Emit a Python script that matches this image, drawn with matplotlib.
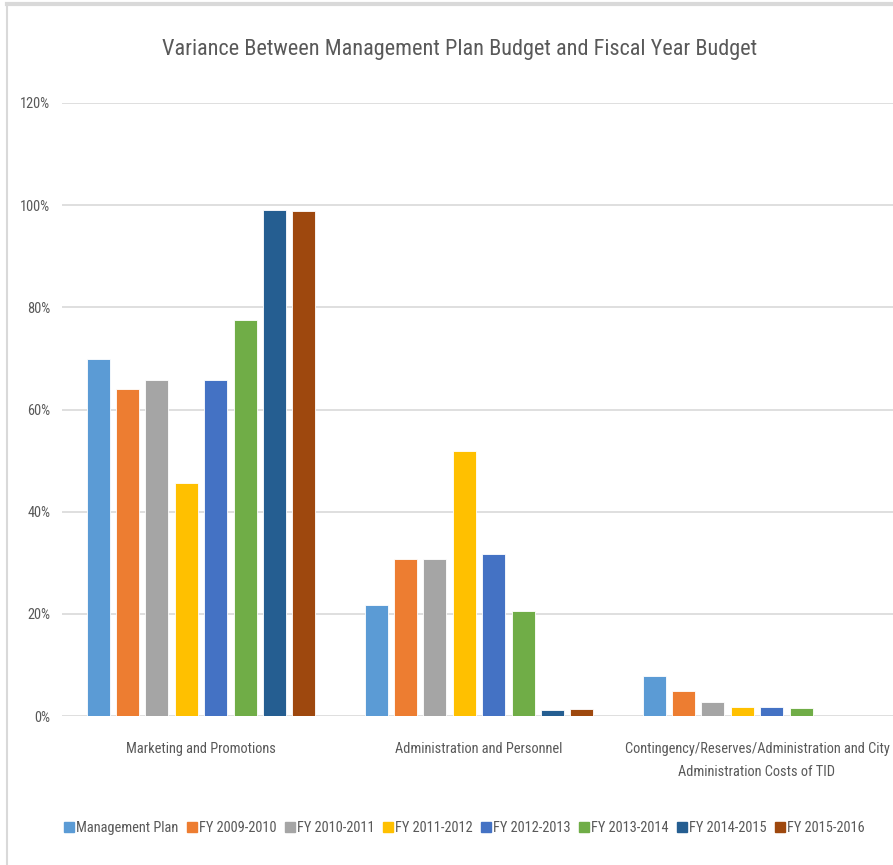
import matplotlib
matplotlib.use("Agg")
import matplotlib.pyplot as plt
import numpy as np
from matplotlib.lines import Line2D

FONT = ['Roboto Condensed', 'Carlito', 'DejaVu Sans']
plt.rcParams['font.family'] = FONT
plt.rcParams['font.weight'] = 'normal'

categories = ["Marketing and Promotions",
              "Administration and Personnel",
              "Contingency/Reserves/Administration and City\nAdministration Costs of TID"]
series_names = ["Management Plan", "FY 2009-2010", "FY 2010-2011", "FY 2011-2012",
                "FY 2012-2013", "FY 2013-2014", "FY 2014-2015", "FY 2015-2016"]
values = {
    "Management Plan": [69.8, 21.8, 7.9],
    "FY 2009-2010":    [64.0, 30.8, 4.8],
    "FY 2010-2011":    [65.8, 30.8, 2.8],
    "FY 2011-2012":    [45.6, 51.8, 1.8],
    "FY 2012-2013":    [65.8, 31.8, 1.8],
    "FY 2013-2014":    [77.5, 20.6, 1.6],
    "FY 2014-2015":    [99.0, 1.1, 0.0],
    "FY 2015-2016":    [98.8, 1.4, 0.0],
}
colors = ["#5B9BD5", "#ED7D31", "#A5A5A5", "#FFC000",
          "#4472C4", "#70AD47", "#255E91", "#9E480E"]
yticks = [0, 20, 40, 60, 80, 100, 120]
ytick_labels = ["0%", "20%", "40%", "60%", "80%", "100%", "120%"]

W, H = 893, 865
fig = plt.figure(figsize=(W / 100, H / 100), dpi=100)
ax = fig.add_axes([62 / W, (H - 716) / H, 834 / W, (716 - 103) / H])
renderer = fig.canvas.get_renderer()


def fit(text_artist, target_px):
    w = text_artist.get_window_extent(renderer).width
    text_artist.set_fontsize(text_artist.get_fontsize() * target_px / w)


x = np.arange(len(categories))
slot = 0.1058
bw = 0.083
n = len(series_names)
for i, (name, c) in enumerate(zip(series_names, colors)):
    offs = (i - (n - 1) / 2) * slot
    ax.bar(x + offs, values[name], width=bw, color=c, edgecolor='white',
           linewidth=0.6, label=name, zorder=3)

ax.set_xlim(-0.5, len(categories) - 0.5)
ax.set_ylim(0, 120)
ax.set_yticks(yticks)
ax.set_yticklabels(ytick_labels, fontsize=11, color="#595959")
ax.set_xticks(x)
ax.set_xticklabels(categories, fontsize=11.5, color="#595959", linespacing=1.8)
ax.tick_params(axis='both', length=0)
ax.tick_params(axis='y', pad=8.5)
ax.tick_params(axis='x', pad=19)
for s in ax.spines.values():
    s.set_visible(False)
ax.grid(axis='y', color="#D9D9D9", linewidth=1.2, zorder=0)
ax.set_axisbelow(True)

fig.canvas.draw()
xl = ax.get_xticklabels()
fit(xl[0], 151)
fs_cat = xl[0].get_fontsize()
for t in xl:
    t.set_fontsize(fs_cat)
yl = ax.get_yticklabels()
for t in yl:
    t.set_fontsize(fs_cat)

title = fig.text(460 / W, 1 - 50 / H, "Variance Between Management Plan Budget and Fiscal Year Budget",
                 ha='center', va='center', fontsize=20, color="#595959")
fit(title, 594)

handles = [Line2D([], [], marker='s', linestyle='none', markersize=7,
                  markerfacecolor=c, markeredgecolor=c) for c in colors]
leg = fig.legend(handles, series_names, loc='center', bbox_to_anchor=(464 / W, 1 - 828 / H),
                 ncol=8, frameon=False, fontsize=fs_cat, handletextpad=0.1,
                 columnspacing=0.52, labelcolor="#595959", handlelength=0.8)

# light border of the chart area (top and left)
fig.add_artist(Line2D([7 / W, 7 / W], [0, 1 - 4 / H], transform=fig.transFigure,
                      color="#D9D9D9", linewidth=1.5))
fig.add_artist(Line2D([7 / W, 1], [1 - 4 / H, 1 - 4 / H], transform=fig.transFigure,
                      color="#D9D9D9", linewidth=3))

fig.savefig("out.png", dpi=100)
